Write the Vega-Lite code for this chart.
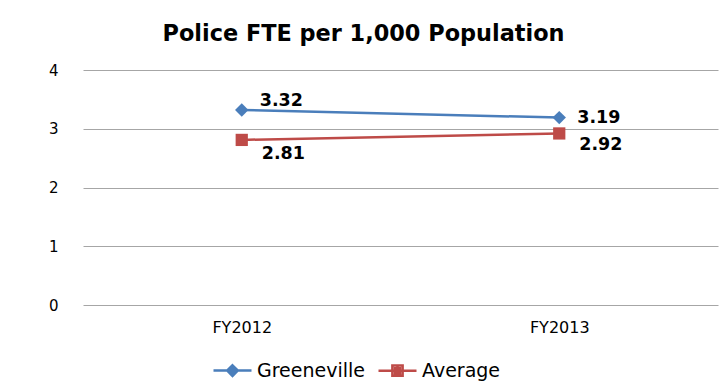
{
  "$schema": "https://vega.github.io/schema/vega-lite/v6.json",
  "width": 635,
  "height": 235,
  "autosize": {"type": "none"},
  "padding": {"left": 83, "top": 70, "right": 5, "bottom": 81},
  "background": "white",
  "config": {"view": {"stroke": null}},
  "title": {"text": "Police FTE per 1,000 Population", "font": "DejaVu Sans", "fontSize": 22.4, "fontWeight": "bold", "color": "#000000", "anchor": "middle", "dx": -37, "offset": 18},
  "data": {"values": [
    {"year": "FY2012", "series": "Greeneville", "value": 3.32},
    {"year": "FY2013", "series": "Greeneville", "value": 3.19},
    {"year": "FY2012", "series": "Average", "value": 2.81},
    {"year": "FY2013", "series": "Average", "value": 2.92}
  ]},
  "encoding": {
    "x": {"field": "year", "type": "nominal", "scale": {"type": "point", "padding": 0.5},
      "axis": {"title": null, "labelAngle": 0, "domain": false, "ticks": false, "grid": false, "labelFont": "DejaVu Sans", "labelFontSize": 16, "labelColor": "#000000", "labelPadding": 14}},
    "y": {"field": "value", "type": "quantitative", "scale": {"domain": [0, 4]},
      "axis": {"title": null, "values": [0, 1, 2, 3, 4], "domain": false, "ticks": false, "gridColor": "#a6a6a6", "gridWidth": 1, "labelFont": "DejaVu Sans", "labelFontSize": 15, "labelPadding": 25, "labelColor": "#000000"}}
  },
  "layer": [
    {
      "transform": [{"filter": "datum.series === 'Greeneville'"}],
      "mark": {"type": "line", "strokeWidth": 2.5, "color": "#4A7EBB"},
      "encoding": {}
    },
    {
      "transform": [{"filter": "datum.series === 'Average'"}],
      "mark": {"type": "line", "strokeWidth": 2.5, "color": "#BE4B48"},
      "encoding": {}
    },
    {
      "transform": [{"filter": "datum.series === 'Greeneville'"}],
      "mark": {"type": "point", "filled": true, "opacity": 1, "shape": "diamond", "size": 180, "color": "#4A7EBB"}
    },
    {
      "transform": [{"filter": "datum.series === 'Average'"}],
      "mark": {"type": "point", "filled": true, "opacity": 1, "shape": "square", "size": 150, "color": "#BE4B48"}
    },
    {
      "mark": {"type": "point", "filled": false, "opacity": 0, "strokeWidth": 2.5},
      "encoding": {
        "stroke": {"field": "series", "type": "nominal", "scale": {"domain": ["Greeneville", "Average"], "range": ["#4A7EBB", "#BE4B48"]},
          "legend": {"orient": "none", "legendX": 129, "legendY": 280, "direction": "horizontal", "title": null, "symbolSize": 1444, "labelFont": "DejaVu Sans", "labelFontSize": 19, "labelColor": "#000000", "columnPadding": 8, "labelOffset": 4, "symbolStrokeWidth": 2.5, "symbolOpacity": 1}},
        "shape": {"field": "series", "type": "nominal", "scale": {"domain": ["Greeneville", "Average"], "range": ["M-1,0H1M0,-0.28L0.28,0L0,0.28L-0.28,0ZM0,-0.14L0.14,0L0,0.14L-0.14,0ZM0,-0.28V0.28", "M-1,0H1M-0.27,-0.27H0.27V0.27H-0.27ZM-0.13,-0.13H0.13V0.13H-0.13ZM0,-0.27V0.27"]},
          "legend": {"orient": "none", "legendX": 129, "legendY": 280, "direction": "horizontal", "title": null, "symbolSize": 1444, "labelFont": "DejaVu Sans", "labelFontSize": 19, "labelColor": "#000000", "columnPadding": 8, "labelOffset": 4, "symbolStrokeWidth": 2.5, "symbolOpacity": 1}}
      }
    },
    {
      "transform": [{"filter": "datum.series === 'Greeneville' && datum.year === 'FY2012'"}],
      "mark": {"type": "text", "align": "left", "baseline": "middle", "dx": 18, "dy": -9, "font": "DejaVu Sans", "fontSize": 17.5, "fontWeight": "bold", "color": "#000000"},
      "encoding": {"text": {"field": "value", "type": "quantitative", "format": ".2f"}}
    },
    {
      "transform": [{"filter": "datum.series === 'Greeneville' && datum.year === 'FY2013'"}],
      "mark": {"type": "text", "align": "left", "baseline": "middle", "dx": 18, "dy": 0, "font": "DejaVu Sans", "fontSize": 17.5, "fontWeight": "bold", "color": "#000000"},
      "encoding": {"text": {"field": "value", "type": "quantitative", "format": ".2f"}}
    },
    {
      "transform": [{"filter": "datum.series === 'Average' && datum.year === 'FY2012'"}],
      "mark": {"type": "text", "align": "left", "baseline": "middle", "dx": 20, "dy": 14, "font": "DejaVu Sans", "fontSize": 17.5, "fontWeight": "bold", "color": "#000000"},
      "encoding": {"text": {"field": "value", "type": "quantitative", "format": ".2f"}}
    },
    {
      "transform": [{"filter": "datum.series === 'Average' && datum.year === 'FY2013'"}],
      "mark": {"type": "text", "align": "left", "baseline": "middle", "dx": 20, "dy": 12, "font": "DejaVu Sans", "fontSize": 17.5, "fontWeight": "bold", "color": "#000000"},
      "encoding": {"text": {"field": "value", "type": "quantitative", "format": ".2f"}}
    }
  ]
}
